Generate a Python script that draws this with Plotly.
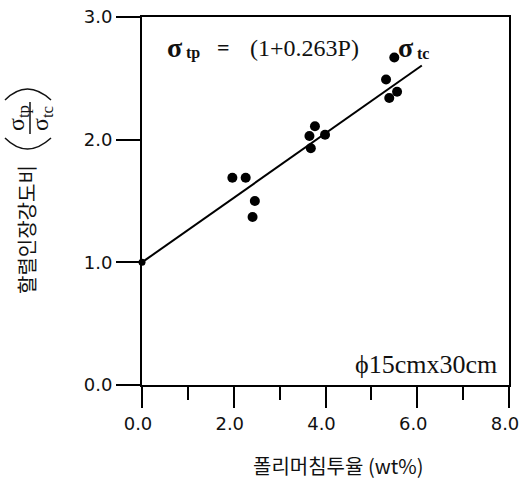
import plotly.graph_objects as go

# Measured splitting-tensile strength ratio vs. polymer impregnation
polymer_wt = [1.97, 2.26, 2.46, 2.41, 3.77, 3.65, 3.99, 3.68, 5.50, 5.32, 5.56, 5.39]
strength_ratio = [1.69, 1.69, 1.50, 1.37, 2.11, 2.03, 2.04, 1.93, 2.67, 2.49, 2.39, 2.34]

# Reference (unimpregnated) specimen
base_wt = [0.0]
base_ratio = [1.0]

# Regression: sigma_tp = (1 + 0.263 P) sigma_tc
slope = 0.263
fit_x = [0.0, 6.1]
fit_y = [1 + slope * p for p in fit_x]

x_ticks = [0, 2, 4, 6, 8]
y_ticks = [0, 1, 2, 3]

W, H = 521, 479
L, R, T, B = 142, 12, 17, 94
PW, PH = W - L - R, H - T - B


def px(x):
    return (x - L) / PW


def py(y):
    return (H - B - y) / PH


fig = go.Figure()
fig.add_trace(go.Scatter(x=fit_x, y=fit_y, mode="lines",
                         line=dict(color="black", width=2), cliponaxis=False))
fig.add_trace(go.Scatter(x=polymer_wt, y=strength_ratio, mode="markers",
                         marker=dict(color="black", size=10), cliponaxis=False))
fig.add_trace(go.Scatter(x=base_wt, y=base_ratio, mode="markers",
                         marker=dict(color="black", size=7), cliponaxis=False))

tick_font = dict(family="DejaVu Sans", size=18, color="#111")

fig.update_xaxes(range=[0, 8], tickvals=x_ticks, ticktext=[f"{v:.1f}" for v in x_ticks],
                 showgrid=False, zeroline=False, showline=True, linecolor="black",
                 linewidth=2, mirror=True, ticks="outside", ticklen=21, tickwidth=2,
                 tickcolor="black", tickfont=tick_font, ticklabeloverflow="allow",
                 ticklabelshift=-4, automargin=False,
                 minor=dict(dtick=1, tick0=0, ticks="outside", ticklen=13,
                            tickwidth=2, tickcolor="black"))
fig.update_yaxes(range=[0, 3], tickvals=y_ticks, ticktext=[f"{v:.1f}" for v in y_ticks],
                 showgrid=False, zeroline=False, showline=True, linecolor="black",
                 linewidth=2, mirror=True, ticks="outside", ticklen=24, tickwidth=2,
                 tickcolor="black", tickfont=tick_font, automargin=False)

ann = []
serif = "Liberation Serif"
# Regression equation
ann.append(dict(x=px(165), y=py(47), text="<b>σ</b>", font=dict(family=serif, size=28, color="#111"),
                xanchor="left", yanchor="middle"))
ann.append(dict(x=px(184), y=py(53), text="<b>tp</b>", font=dict(family=serif, size=16, color="#111"),
                xanchor="left", yanchor="middle"))
ann.append(dict(x=px(223), y=py(48), text="<b>=</b>", font=dict(family=serif, size=22, color="#111"),
                xanchor="center", yanchor="middle"))
ann.append(dict(x=px(248), y=py(48), text="(1+0.263P)", font=dict(family=serif, size=24, color="#111"),
                xanchor="left", yanchor="middle"))
ann.append(dict(x=px(396), y=py(47), text="<b>σ</b>", font=dict(family=serif, size=28, color="#111"),
                xanchor="left", yanchor="middle"))
ann.append(dict(x=px(415), y=py(53), text="<b>tc</b>", font=dict(family=serif, size=16, color="#111"),
                xanchor="left", yanchor="middle"))
# Specimen size
ann.append(dict(x=px(499), y=py(364), text="ϕ15cmx30cm", font=dict(family=serif, size=26, color="#111"),
                xanchor="right", yanchor="middle"))
# X axis title
ann.append(dict(x=px(338), y=py(465), text="폴리머침투율 (wt%)",
                font=dict(family="Noto Sans CJK KR", size=20, color="#111"),
                xanchor="center", yanchor="middle"))
# Y axis title
ann.append(dict(x=px(26), y=py(230), text="할렬인장강도비", textangle=-90,
                font=dict(family="Noto Sans CJK KR", size=20, color="#111"),
                xanchor="center", yanchor="middle"))
ann.append(dict(x=px(18), y=py(118), text="σ<sub>tp</sub>", textangle=-90,
                font=dict(family=serif, size=24, color="#111"),
                xanchor="center", yanchor="middle"))
ann.append(dict(x=px(42), y=py(118), text="σ<sub>tc</sub>", textangle=-90,
                font=dict(family=serif, size=24, color="#111"),
                xanchor="center", yanchor="middle"))
for a in ann:
    a.update(xref="paper", yref="paper", showarrow=False)

shapes = [
    # fraction bar
    dict(type="line", x0=px(30), x1=px(30), y0=py(102), y1=py(134),
         line=dict(color="#111", width=1.5)),
    # parentheses around the fraction
    dict(type="path", path=f"M {px(5)},{py(100)} Q {px(27)},{py(78)} {px(51)},{py(100)}",
         line=dict(color="#111", width=1.5)),
    dict(type="path", path=f"M {px(5)},{py(138)} Q {px(27)},{py(160)} {px(51)},{py(138)}",
         line=dict(color="#111", width=1.5)),
]
for s in shapes:
    s.update(xref="paper", yref="paper")

fig.update_layout(width=W, height=H, margin=dict(l=L, r=R, t=T, b=B),
                  plot_bgcolor="white", paper_bgcolor="white", showlegend=False,
                  annotations=ann, shapes=shapes)

fig.write_html("out.html")
